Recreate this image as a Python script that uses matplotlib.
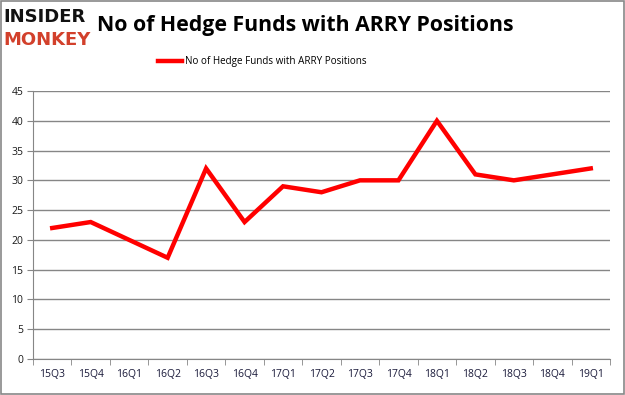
import matplotlib.pyplot as plt
from matplotlib.patches import Rectangle

# ---- data ----
quarters = ['15Q3', '15Q4', '16Q1', '16Q2', '16Q3', '16Q4', '17Q1', '17Q2',
            '17Q3', '17Q4', '18Q1', '18Q2', '18Q3', '18Q4', '19Q1']
hedge_funds = [22, 23, 20, 17, 32, 23, 29, 28, 30, 30, 40, 31, 30, 31, 32]
y_ticks = [0, 5, 10, 15, 20, 25, 30, 35, 40, 45]

SERIES_NAME = 'No of Hedge Funds with ARRY Positions'
RED = '#ff0000'
GRID = '#868686'

plt.rcParams['font.family'] = ['Open Sans', 'DejaVu Sans']

fig = plt.figure(figsize=(6.25, 3.95), dpi=100)
ax = fig.add_axes([0.0528, 0.0911, 0.9232, 0.6785])

x = list(range(len(quarters)))
ax.plot(x, hedge_funds, color=RED, linewidth=3.2, solid_joinstyle='miter')

ax.set_xlim(-0.5, len(quarters) - 0.5)
ax.set_ylim(0, 45)
ax.set_yticks(y_ticks)
ax.set_xticks(x)
ax.set_xticklabels(quarters)
ax.set_xticks([i - 0.5 for i in range(len(quarters) + 1)], minor=True)
ax.tick_params(axis='x', which='major', length=0, pad=7, labelsize=7.5, colors='#1a1a3a')
ax.tick_params(axis='x', which='minor', length=4, color=GRID, direction='out')
ax.tick_params(axis='y', length=4, color=GRID, labelsize=7.5, pad=3, colors='#1a1a1a')

ax.yaxis.grid(True, color=GRID, linewidth=1)
ax.set_axisbelow(True)
for side in ['top', 'right']:
    ax.spines[side].set_visible(False)
ax.spines['left'].set_color(GRID)
ax.spines['bottom'].set_color(GRID)

# title and logo
fig.text(0.155, 0.935, SERIES_NAME, fontsize=15.3, fontweight='bold', va='center', ha='left')
fig.text(0.006, 0.958, 'INSIDER', fontsize=13, fontweight='heavy', family='DejaVu Sans',
         color='#111111', va='center', ha='left')
fig.text(0.006, 0.898, 'MONKEY', fontsize=13, fontweight='heavy', family='DejaVu Sans',
         color='#d2402b', va='center', ha='left')

# legend
fig.add_artist(plt.Line2D([0.253, 0.291], [0.845, 0.845], color=RED, linewidth=3.2))
fig.text(0.296, 0.845, SERIES_NAME, fontsize=7.1, va='center', ha='left')

# outer border
fig.add_artist(Rectangle((0.001, 0.002), 0.997, 0.995, transform=fig.transFigure,
                         fill=False, edgecolor='#888888', linewidth=1.2))

fig.savefig('out.png', dpi=100)
